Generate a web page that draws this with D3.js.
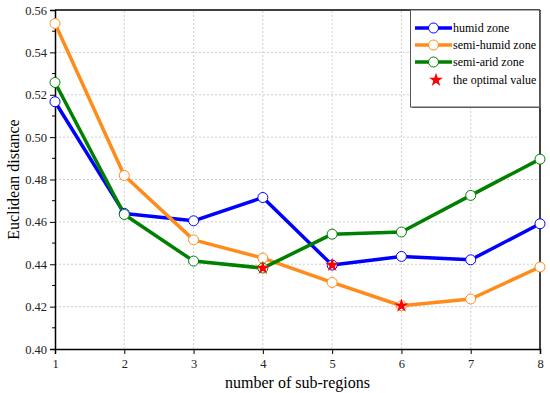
<!DOCTYPE html>
<html>
<head>
<meta charset="utf-8">
<script src="https://cdn.jsdelivr.net/npm/d3@7"></script>
<style>
body { margin: 0; background: #fff; }
svg text { font-family: "Liberation Serif", "Times New Roman", serif !important; }
</style>
</head>
<body>
<svg id="viz" width="550" height="393"></svg>
<script>
var regions = [1, 2, 3, 4, 5, 6, 7, 8];
var humid = [0.5167, 0.464, 0.4605, 0.4715, 0.4396, 0.4437, 0.4421, 0.4591];
var semiHumid = [0.5536, 0.4819, 0.4515, 0.4429, 0.4314, 0.4204, 0.4236, 0.4387];
var semiArid = [0.5258, 0.4635, 0.4415, 0.4382, 0.4542, 0.4552, 0.4725, 0.4896];
var yTicks = [0.40, 0.42, 0.44, 0.46, 0.48, 0.50, 0.52, 0.54, 0.56];
var seriesNames = ["humid zone", "semi-humid zone", "semi-arid zone"];
var colors = ["#0000ff", "#ff8c1a", "#008000"];
// index of the optimal value in each series
var optimal = [4, 5, 3];

var svg = d3.select("#viz");
var margin = { left: 55, right: 10, top: 10, bottom: 44 };
var width = 550, height = 393;

var x = d3.scaleLinear().domain([1, 8]).range([margin.left, width - margin.right]);
var y = d3.scaleLinear().domain([0.40, 0.56]).range([height - margin.bottom, margin.top]);

// dotted grid
svg.append("g").selectAll("line").data(regions.slice(1, -1)).enter().append("line")
    .attr("x1", function (d) { return x(d); }).attr("x2", function (d) { return x(d); })
    .attr("y1", y(0.40)).attr("y2", y(0.56))
    .style("stroke", "#cfcfcf").style("stroke-dasharray", "2,2");
svg.append("g").selectAll("line").data(yTicks.slice(1, -1)).enter().append("line")
    .attr("y1", function (d) { return y(d); }).attr("y2", function (d) { return y(d); })
    .attr("x1", x(1)).attr("x2", x(8))
    .style("stroke", "#cfcfcf").style("stroke-dasharray", "2,2");

// frame top / right
svg.append("line").attr("x1", x(1)).attr("x2", x(8)).attr("y1", y(0.56)).attr("y2", y(0.56))
    .style("stroke", "#000").style("stroke-width", 1.5);
svg.append("line").attr("x1", x(8)).attr("x2", x(8)).attr("y1", y(0.56)).attr("y2", y(0.40))
    .style("stroke", "#000").style("stroke-width", 1.5);

// axes
var yAxis = d3.axisLeft(y).tickValues(yTicks).tickFormat(d3.format(".2f")).tickSize(5);
var gy = svg.append("g").attr("transform", "translate(" + x(1) + ",0)").call(yAxis);
var minor = d3.range(0.41, 0.56, 0.02);
gy.selectAll(".minor").data(minor).enter().append("line")
    .attr("class", "minor")
    .attr("x1", -3).attr("x2", 0)
    .attr("y1", function (d) { return y(d); }).attr("y2", function (d) { return y(d); })
    .style("stroke", "#000");

var xAxis = d3.axisBottom(x).tickValues(regions).tickFormat(d3.format("d")).tickSize(5);
var gx = svg.append("g").attr("transform", "translate(0," + y(0.40) + ")").call(xAxis);

[gx, gy].forEach(function (g) {
    g.attr("font-family", null);
    g.select(".domain").style("stroke-width", 1.5);
    g.selectAll("text").style("font-size", "12.5px").style("fill", "#222");
});
gx.selectAll("text").attr("dy", "0.85em");

// axis titles
svg.append("text")
    .attr("x", (x(1) + x(8)) / 2).attr("y", 388)
    .style("text-anchor", "middle").style("font-size", "16px")
    .text("number of sub-regions");
svg.append("text")
    .attr("transform", "translate(19," + (y(0.48)) + ") rotate(-90)")
    .style("text-anchor", "middle").style("font-size", "16px")
    .text("Euclidean distance");

var line = d3.line()
    .x(function (d, i) { return x(regions[i]); })
    .y(function (d) { return y(d); });

var star = d3.symbol().type(d3.symbolStar).size(60);

[humid, semiHumid, semiArid].forEach(function (vals, s) {
    svg.append("path").datum(vals)
        .attr("d", line)
        .style("fill", "none").style("stroke", colors[s])
        .style("stroke-width", 3.5).style("stroke-linejoin", "round");
});
[humid, semiHumid, semiArid].forEach(function (vals, s) {
    svg.append("g").selectAll("circle").data(vals).enter().append("circle")
        .attr("cx", function (d, i) { return x(regions[i]); })
        .attr("cy", function (d) { return y(d); })
        .attr("r", 5)
        .style("fill", "#fff").style("stroke", colors[s]).style("stroke-width", 1);
});
[humid, semiHumid, semiArid].forEach(function (vals, s) {
    var i = optimal[s];
    svg.append("path").attr("d", star)
        .attr("transform", "translate(" + x(regions[i]) + "," + y(vals[i]) + ")")
        .style("fill", "#ff0000");
});

// legend
var lg = svg.append("g");
lg.append("rect").attr("x", 412).attr("y", 11).attr("width", 129).attr("height", 97)
    .style("fill", "#666");
lg.append("rect").attr("x", 410.5).attr("y", 10).attr("width", 129).attr("height", 97)
    .style("fill", "#fff").style("stroke", "#555").style("stroke-width", 1);
var rows = [28, 45, 62];
seriesNames.forEach(function (name, s) {
    lg.append("line").attr("x1", 415).attr("x2", 452).attr("y1", rows[s]).attr("y2", rows[s])
        .style("stroke", colors[s]).style("stroke-width", 3.5);
    lg.append("circle").attr("cx", 433.5).attr("cy", rows[s]).attr("r", 5)
        .style("fill", "#fff").style("stroke", colors[s]);
    lg.append("text").attr("x", 453).attr("y", rows[s]).attr("dy", "0.35em")
        .style("font-size", "12px").text(name);
});
lg.append("path").attr("d", star).attr("transform", "translate(436,80)").style("fill", "#ff0000");
lg.append("text").attr("x", 453).attr("y", 80).attr("dy", "0.35em")
    .style("font-size", "12px").text("the optimal value");
</script>
</body>
</html>
